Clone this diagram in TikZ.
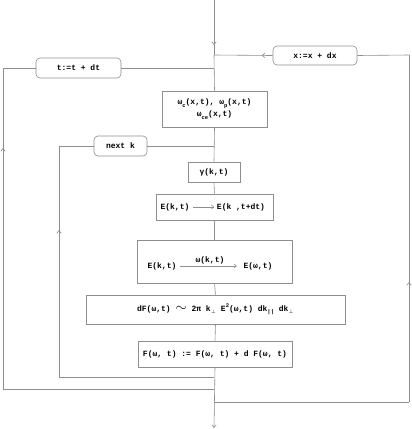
\documentclass[tikz,border=0pt]{standalone}
\usepackage{fontspec}
\setmonofont{Liberation Mono}
\usetikzlibrary{arrows.meta,decorations.markings}
\definecolor{lg}{HTML}{8E8E8E}
\newcommand\lsub[1]{\raisebox{-0.55ex}{\fontsize{5.5}{6}\selectfont #1}}
\newcommand\lsup[1]{\raisebox{0.9ex}{\fontsize{5.5}{6}\selectfont #1}}
\begin{document}
\begin{tikzpicture}[x=1pt,y=-1pt,
  every node/.style={font=\ttfamily\bfseries\fontsize{8}{10}\selectfont, text=black, inner sep=0.5pt},
  conn/.style={draw=lg, line width=0.6pt},
  box/.style={draw=lg, line width=0.6pt, inner sep=0pt},
  rbox/.style={box, rounded corners=4pt},
  tipb/.style={-{Straight Barb[length=2.5pt,width=4pt]}},
  midarr/.style={postaction={decorate}, decoration={markings, mark=at position #1 with {\arrow[lg]{Straight Barb[length=2.8pt,width=4.5pt]}}}}]
\fill[white] (0,0) rectangle (412,429);
\useasboundingbox (0,0) rectangle (412,429);
% boxes
\node[rbox, minimum width=84pt, minimum height=19pt] (xb) at (315,55.5) {x:=x + dx};
\node[rbox, minimum width=85pt, minimum height=20pt] (tb) at (78.5,68) {t:=t + dt};
\node[box, minimum width=105pt, minimum height=36pt, align=center] (wb) at (214.5,109)
  {ω\lsub{c}(x,t), ω\lsub{p}(x,t)\\[2pt] ω\lsub{ce}(x,t)};
\node[rbox, minimum width=53pt, minimum height=20pt] (nb) at (120.5,146) {next k};
\node[box, minimum width=52pt, minimum height=20pt] (gb) at (214,172) {γ(k,t)};
\node[box, minimum width=117pt, minimum height=26pt] (eb) at (214.5,207) {};
\node[box, minimum width=155pt, minimum height=43pt] (ewb) at (214.5,261.5) {};
\node[box, minimum width=259pt, minimum height=29pt] (dfb) at (215.5,309.5)
  {dF(ω,t) {\fontsize{14}{14}\selectfont$\sim$}\ 2π k\lsub{$\perp$}\ E\lsup{2}(ω,t) dk\lsub{||} dk\lsub{$\perp$}};
\node[box, minimum width=154pt, minimum height=26pt] (fb) at (215,354) {F(ω, t) := F(ω, t) + d F(ω, t)};
% inner texts
\node (e1) at (175,207) {E(k,t)};
\node (e2) at (241,207) {E(k ,t+dt)};
\draw[conn, tipb, shorten <=3pt, shorten >=2pt] (e1) -- (e2);
\node (a1) at (162,266) {E(k,t)};
\node (a2) at (258,266) {E(ω,t)};
\draw[conn, tipb, shorten <=3pt, shorten >=6pt] (a1) -- node[above=1.5pt] {ω(k,t)} (a2);
% coordinates
\coordinate (top) at (214,0);
\coordinate (jx) at (214,55);
\coordinate (jt) at (214,68);
\coordinate (jn) at (214,146);
\coordinate (xr) at (409,55);
\coordinate (xrb) at (409,402);
\coordinate (jxb) at (214,402);
\coordinate (tl) at (3,68);
\coordinate (tlb) at (3,389);
\coordinate (jtb) at (214,389);
\coordinate (nl) at (59,146);
\coordinate (nlb) at (59,377);
\coordinate (jnb) at (214,377);
\coordinate (bot) at (214,428);
% main line
\draw[conn, midarr=45pt] (top) -- (jx);
\draw[conn] (jx) -- (wb.north);
\draw[conn] (wb.south) -- (gb.north);
\draw[conn] (gb.south) -- (eb.north);
\draw[conn] (eb.south) -- (ewb.north);
\draw[conn] (ewb.south) -- (dfb.north);
\draw[conn] (dfb.south) -- (fb.north);
\draw[conn, tipb] (fb.south) -- (bot);
% x loop
\draw[conn] (jxb) -- (xrb);
\draw[conn, midarr=120pt] (xrb) -- (xr);
\draw[conn] (xr) -- (xb.east);
\draw[conn, midarr=11pt] (xb.west) -- (jx);
% t loop
\draw[conn] (jtb) -- (tlb);
\draw[conn, midarr=241pt] (tlb) -- (tl);
\draw[conn] (tl) -- (tb.west);
\draw[conn] (tb.east) -- (jt);
% k loop
\draw[conn] (jnb) -- (nlb);
\draw[conn, midarr=147pt] (nlb) -- (nl);
\draw[conn] (nl) -- (nb.west);
\draw[conn] (nb.east) -- (jn);
\end{tikzpicture}
\end{document}
